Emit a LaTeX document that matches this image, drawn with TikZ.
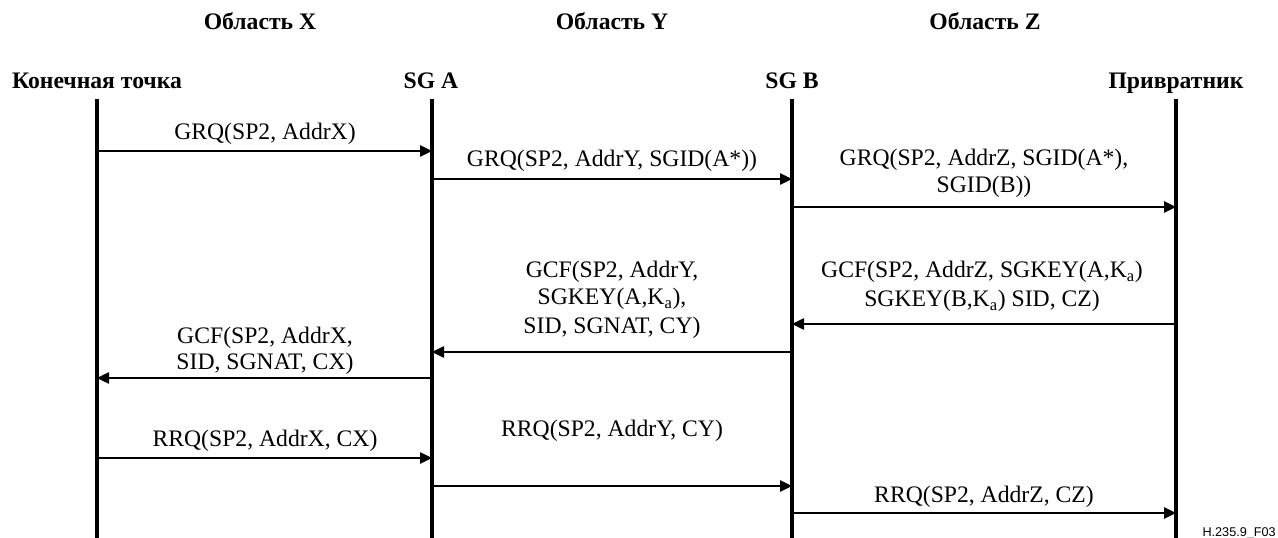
\documentclass[tikz,border=0pt]{standalone}
\usepackage{fontspec}
\setmainfont{Liberation Serif}
\newfontfamily\figfont{Liberation Sans}
\usetikzlibrary{arrows.meta}
\begin{document}
\begin{tikzpicture}[x=0.75pt,y=-0.75pt,
  lbl/.style={font=\fontsize{17.75}{21}\selectfont, inner sep=0pt, anchor=base},
  hdr/.style={font=\fontsize{17.75}{21}\selectfont\bfseries, inner sep=0pt, anchor=base},
  life/.style={line width=2.8pt},
  msg/.style={line width=1.1pt, -{Triangle[length=9pt,width=8.5pt]}},
]
\useasboundingbox (0,0) rectangle (1278,538);

% domain labels
\node[hdr] (dX) at (260,30) {Область X};
\node[hdr] (dY) at (612,30) {Область Y};
\node[hdr] (dZ) at (985,30) {Область Z};

% entity headers
\node[hdr] (hEP) at (97,89) {Конечная точка};
\node[hdr] (hA)  at (431,89) {SG A};
\node[hdr] (hB)  at (792,89) {SG B};
\node[hdr] (hGK) at (1176,89) {Привратник};

% lifelines
\coordinate (EP) at (97,99);
\coordinate (A)  at (432,99);
\coordinate (B)  at (792,99);
\coordinate (GK) at (1176,99);
\foreach \l in {EP,A,B,GK}{\draw[life] (\l) -- (\l |- 0,538);}

% messages
\node[lbl] (m1) at (265,140) {GRQ(SP2, AddrX)};
\draw[msg] (EP |- 0,151) -- (A |- 0,151);

\node[lbl] (m2) at (612,167) {GRQ(SP2, AddrY, SGID(A*))};
\draw[msg] (A |- 0,179) -- (B |- 0,179);

\node[lbl] (m3a) at (984,166) {GRQ(SP2, AddrZ, SGID(A*),};
\node[lbl] (m3b) at (984,193) {SGID(B))};
\draw[msg] (B |- 0,207) -- (GK |- 0,207);

\node[lbl] (m4a) at (982,278) {GCF(SP2, AddrZ, SGKEY(A,K\textsubscript{a})};
\node[lbl] (m4b) at (982,307) {SGKEY(B,K\textsubscript{a}) SID, CZ)};
\draw[msg] (GK |- 0,324) -- (B |- 0,324);

\node[lbl] (m5a) at (612,278) {GCF(SP2, AddrY,};
\node[lbl] (m5b) at (612,305) {SGKEY(A,K\textsubscript{a}),};
\node[lbl] (m5c) at (612,334) {SID, SGNAT, CY)};
\draw[msg] (B |- 0,352) -- (A |- 0,352);

\node[lbl] (m6a) at (265,344) {GCF(SP2, AddrX,};
\node[lbl] (m6b) at (265,369) {SID, SGNAT, CX)};
\draw[msg] (A |- 0,378) -- (EP |- 0,378);

\node[lbl] (m7) at (265,446) {RRQ(SP2, AddrX, CX)};
\draw[msg] (EP |- 0,458) -- (A |- 0,458);

\node[lbl] (m8) at (612,436) {RRQ(SP2, AddrY, CY)};
\draw[msg] (A |- 0,486) -- (B |- 0,486);

\node[lbl] (m9) at (984,502) {RRQ(SP2, AddrZ, CZ)};
\draw[msg] (B |- 0,513) -- (GK |- 0,513);

% figure id
\node[font=\figfont\fontsize{9.5}{11}\selectfont, inner sep=0pt, anchor=base east] (fid) at (1276,536) {H.235.9\_F03};
\end{tikzpicture}
\end{document}
